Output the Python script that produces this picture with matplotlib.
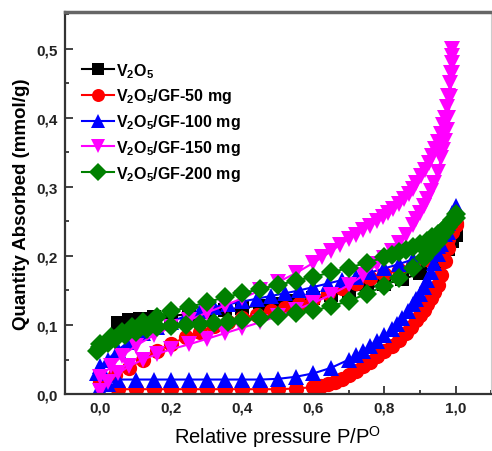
import numpy as np
import matplotlib.pyplot as plt
from matplotlib.ticker import FuncFormatter, MultipleLocator

plt.rcParams['font.family'] = ['Liberation Sans', 'DejaVu Sans']
plt.rcParams['mathtext.default'] = 'regular'

# V2O5 (black squares)
v2o5_ads_p = [0.05, 0.08, 0.11, 0.15, 0.2, 0.25, 0.3, 0.35, 0.4, 0.45, 0.5, 0.55,
              0.6, 0.65, 0.7, 0.75, 0.8, 0.85, 0.9, 0.95, 0.98, 1.0]
v2o5_ads_q = [0.103, 0.107, 0.109, 0.111, 0.113, 0.116, 0.119, 0.122, 0.125, 0.128, 0.131, 0.135,
              0.139, 0.143, 0.148, 0.153, 0.159, 0.166, 0.175, 0.19, 0.21, 0.23]
v2o5_des_p = [1.0, 0.99, 0.97, 0.94, 0.9, 0.85, 0.8]
v2o5_des_q = [0.232, 0.222, 0.212, 0.198, 0.186, 0.173, 0.163]

# V2O5/GF-50 mg (red circles)
gf50_ads_p = [0.05, 0.1, 0.15, 0.2, 0.25, 0.3, 0.35, 0.4, 0.45, 0.5, 0.55, 0.6, 0.62, 0.64, 0.66, 0.68,
              0.7, 0.72, 0.74, 0.76, 0.78, 0.8, 0.82, 0.84, 0.86, 0.875, 0.89, 0.9, 0.91, 0.92, 0.93,
              0.94, 0.95, 0.96, 0.97, 0.98, 0.99, 1.0]
gf50_ads_q = [0.007, 0.007, 0.007, 0.007, 0.007, 0.007, 0.007, 0.007, 0.007, 0.007, 0.008, 0.01, 0.012, 0.015, 0.018, 0.022,
              0.027, 0.033, 0.04, 0.047, 0.055, 0.062, 0.07, 0.078, 0.088, 0.097, 0.107, 0.114, 0.122, 0.13, 0.139,
              0.148, 0.158, 0.172, 0.192, 0.212, 0.235, 0.248]
gf50_des_p = [1.0, 0.98, 0.95, 0.92, 0.88, 0.84, 0.8, 0.76, 0.72, 0.68, 0.64, 0.6, 0.56, 0.52,
              0.48, 0.44, 0.4, 0.36, 0.32, 0.28, 0.24, 0.2, 0.16, 0.12, 0.08, 0.04, 0.0]
gf50_des_q = [0.245, 0.225, 0.205, 0.195, 0.187, 0.18, 0.174, 0.168, 0.161, 0.154, 0.146, 0.138, 0.131, 0.125,
              0.12, 0.115, 0.11, 0.104, 0.098, 0.09, 0.082, 0.073, 0.062, 0.05, 0.038, 0.027, 0.018]

# V2O5/GF-100 mg (blue up triangles)
gf100_ads_p = [-0.01, 0.0, 0.02, 0.05, 0.1, 0.15, 0.2, 0.25, 0.3, 0.35, 0.4, 0.45, 0.5, 0.55, 0.6, 0.65,
               0.7, 0.72, 0.74, 0.76, 0.78, 0.8, 0.82, 0.835, 0.85, 0.865, 0.88, 0.89, 0.9, 0.91, 0.92,
               0.93, 0.94, 0.95, 0.96, 0.97, 0.98, 0.99, 1.0]
gf100_ads_q = [0.002, 0.008, 0.015, 0.021, 0.021, 0.021, 0.021, 0.021, 0.021, 0.021, 0.021, 0.021, 0.022, 0.025, 0.03, 0.038,
               0.05, 0.056, 0.063, 0.07, 0.077, 0.085, 0.094, 0.102, 0.11, 0.12, 0.13, 0.137, 0.145, 0.155, 0.165,
               0.177, 0.19, 0.203, 0.217, 0.232, 0.248, 0.262, 0.272]
gf100_des_p = [1.0, 0.98, 0.95, 0.92, 0.88, 0.84, 0.8, 0.76, 0.72, 0.68, 0.64, 0.6, 0.56, 0.52, 0.48,
               0.44, 0.4, 0.36, 0.32, 0.28, 0.24, 0.2, 0.16, 0.12, 0.08, 0.05, 0.02, 0.0, -0.01]
gf100_des_q = [0.265, 0.235, 0.215, 0.203, 0.195, 0.188, 0.182, 0.176, 0.17, 0.165, 0.16, 0.155, 0.15, 0.146, 0.142,
               0.138, 0.134, 0.13, 0.126, 0.12, 0.113, 0.105, 0.097, 0.088, 0.076, 0.064, 0.05, 0.04, 0.03]

# V2O5/GF-150 mg (magenta down triangles)
gf150_ads_p = [0.0, 0.02, 0.05, 0.08, 0.12, 0.16, 0.2, 0.25, 0.3, 0.35, 0.4, 0.45, 0.5, 0.55, 0.6, 0.65,
               0.7, 0.74, 0.78, 0.8, 0.82, 0.84, 0.86, 0.88, 0.89, 0.9, 0.91, 0.92, 0.93, 0.94, 0.95,
               0.96, 0.965, 0.97, 0.975, 0.98, 0.985, 0.99]
gf150_ads_q = [0.005, 0.018, 0.03, 0.04, 0.05, 0.058, 0.065, 0.072, 0.08, 0.088, 0.096, 0.104, 0.113, 0.122, 0.132, 0.144,
               0.158, 0.172, 0.188, 0.197, 0.207, 0.218, 0.231, 0.245, 0.253, 0.262, 0.272, 0.282, 0.294, 0.306, 0.322,
               0.342, 0.353, 0.366, 0.382, 0.4, 0.43, 0.465]
gf150_des_p = [0.99, 0.99, 0.99, 0.988, 0.985, 0.98, 0.975, 0.97, 0.965, 0.958, 0.95, 0.943, 0.935, 0.925,
               0.915, 0.903, 0.89, 0.88, 0.87, 0.855, 0.84, 0.825, 0.81, 0.795, 0.78, 0.76, 0.74, 0.72,
               0.7, 0.675, 0.65, 0.625, 0.6, 0.55, 0.5, 0.45, 0.4, 0.35, 0.3, 0.25, 0.2, 0.15, 0.1,
               0.06, 0.03, 0.0]
gf150_des_q = [0.5, 0.49, 0.48, 0.465, 0.45, 0.432, 0.415, 0.4, 0.39, 0.377, 0.365, 0.355, 0.345, 0.335,
               0.325, 0.315, 0.305, 0.297, 0.29, 0.282, 0.275, 0.268, 0.262, 0.256, 0.25, 0.244, 0.238, 0.231,
               0.225, 0.216, 0.207, 0.198, 0.19, 0.175, 0.162, 0.15, 0.139, 0.128, 0.118, 0.107, 0.097, 0.085, 0.07,
               0.055, 0.04, 0.025]

# V2O5/GF-200 mg (green diamonds)
gf200_ads_p = [-0.01, 0.0, 0.02, 0.04, 0.07, 0.1, 0.13, 0.16, 0.2, 0.24, 0.28, 0.32, 0.36, 0.4, 0.45,
               0.5, 0.55, 0.6, 0.65, 0.7, 0.75, 0.8, 0.84, 0.88, 0.91, 0.93, 0.95, 0.96, 0.97, 0.98, 0.99, 1.0]
gf200_ads_q = [0.063, 0.068, 0.074, 0.079, 0.085, 0.09, 0.094, 0.097, 0.099, 0.1, 0.101, 0.103, 0.105, 0.107, 0.11,
               0.113, 0.117, 0.121, 0.127, 0.135, 0.145, 0.157, 0.168, 0.182, 0.197, 0.208, 0.22, 0.227, 0.234, 0.242,
               0.249, 0.255]
gf200_des_p = [1.0, 0.99, 0.98, 0.965, 0.95, 0.935, 0.92, 0.9, 0.88, 0.86, 0.84, 0.82, 0.8, 0.75, 0.7, 0.65,
               0.6, 0.55, 0.5, 0.45, 0.4, 0.35, 0.3, 0.25, 0.2, 0.16, 0.12, 0.09, 0.06, 0.03, 0.0]
gf200_des_q = [0.26, 0.252, 0.245, 0.238, 0.232, 0.227, 0.222, 0.217, 0.213, 0.209, 0.205, 0.201, 0.198, 0.19,
               0.183, 0.176, 0.17, 0.164, 0.158, 0.152, 0.146, 0.14, 0.133, 0.126, 0.12, 0.112, 0.104, 0.097,
               0.09, 0.082, 0.072]

labels = [r'V$_2$O$_5$', r'V$_2$O$_5$/GF-50 mg', r'V$_2$O$_5$/GF-100 mg',
          r'V$_2$O$_5$/GF-150 mg', r'V$_2$O$_5$/GF-200 mg']

series = [
    (v2o5_ads_p + v2o5_des_p, v2o5_ads_q + v2o5_des_q, 'black', 's', 10),
    (gf50_ads_p + gf50_des_p, gf50_ads_q + gf50_des_q, '#ff0000', 'o', 11),
    (gf100_ads_p + gf100_des_p, gf100_ads_q + gf100_des_q, '#0000ff', '^', 12),
    (gf150_ads_p + gf150_des_p, gf150_ads_q + gf150_des_q, '#ff00ff', 'v', 12),
    (gf200_ads_p + gf200_des_p, gf200_ads_q + gf200_des_q, '#008000', 'D', 10.5),
]

fig = plt.figure(figsize=(4.92, 4.52), dpi=100)
ax = fig.add_axes([0.132, 0.126, 0.866, 0.845])

for (p, q, color, marker, ms), label in zip(series, labels):
    ax.plot(p, q, color=color, marker=marker, markersize=ms, lw=1.5,
            markeredgewidth=0, label=label)

ax.set_xlim(-0.1, 1.1)
ax.set_ylim(0, 0.553)
ax.xaxis.set_major_locator(MultipleLocator(0.2))
ax.xaxis.set_minor_locator(MultipleLocator(0.1))
ax.yaxis.set_major_locator(MultipleLocator(0.1))
ax.yaxis.set_minor_locator(MultipleLocator(0.05))
comma = FuncFormatter(lambda v, pos: f'{v:.1f}'.replace('.', ','))
ax.xaxis.set_major_formatter(comma)
ax.yaxis.set_major_formatter(comma)
ax.tick_params(which='both', direction='in', colors='#222222', width=1.2,
               labelsize=11, top=False, right=False)
ax.tick_params(which='major', length=6, pad=5)
ax.tick_params(which='minor', length=3)
for t in ax.get_xticklabels() + ax.get_yticklabels():
    t.set_fontweight('bold')

for side in ['left', 'bottom']:
    ax.spines[side].set_linewidth(1.6)
    ax.spines[side].set_color('#333333')
ax.spines['top'].set_linewidth(2.5)
ax.spines['top'].set_color('#666666')
ax.spines['right'].set_linewidth(0.8)
ax.spines['right'].set_color('#cccccc')

ax.set_xlabel(r'Relative pressure P/P$^{O}$', fontsize=14.5, labelpad=6)
ax.set_ylabel('Quantity Absorbed (mmol/g)', fontsize=13.5, fontweight='bold', labelpad=5)

leg = ax.legend(loc='upper left', bbox_to_anchor=(0.04, 0.872), frameon=False,
                borderpad=0, borderaxespad=0, handlelength=2.0, handletextpad=0.1,
                labelspacing=0.42, markerscale=0.85,
                prop={'size': 11.5, 'weight': 'bold'})

fig.savefig('out.png', dpi=100)
